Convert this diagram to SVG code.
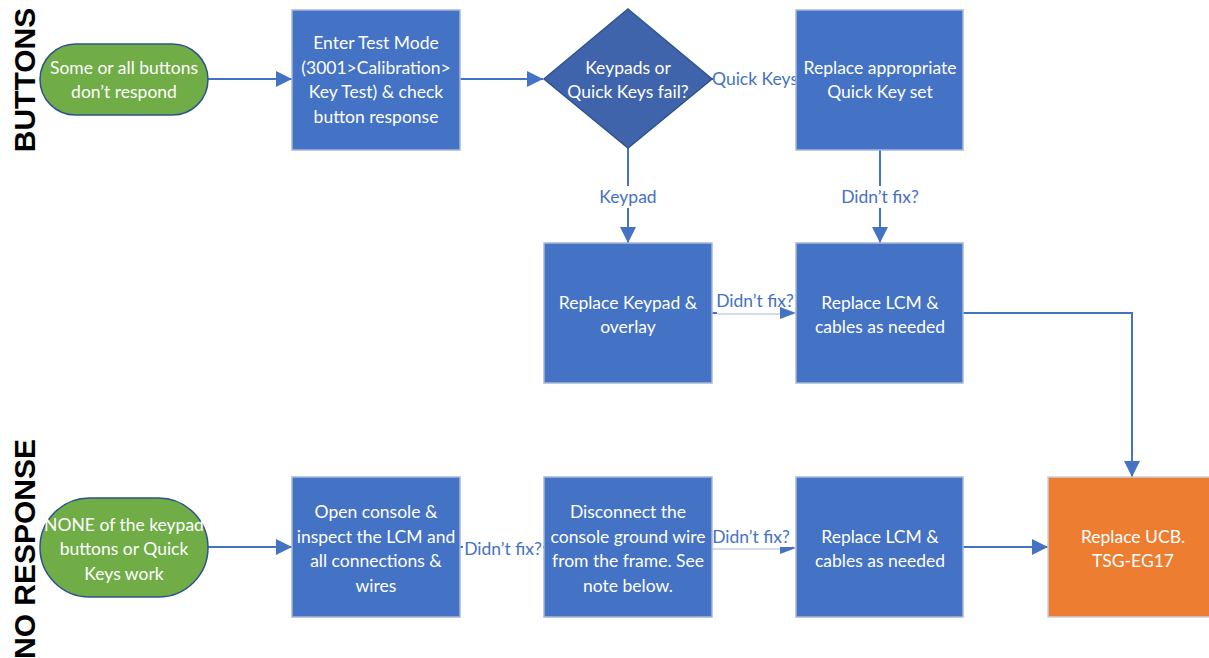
<svg xmlns="http://www.w3.org/2000/svg" width="1209" height="658" viewBox="0 0 1209 658">
  <style>
    .box { fill: #4472C4; stroke: #A9B8D8; stroke-width: 1.5; }
    .dia { fill: #3F64AB; stroke: #2F528F; stroke-width: 1.5; }
    .pill { fill: #70AD47; stroke: #2F528F; stroke-width: 1.5; }
    .end { fill: #ED7D31; stroke: #C9CFDC; stroke-width: 1.5; }
    .nt { font-family: Lato, "Liberation Sans", sans-serif; font-size: 17.5px; fill: #FFFFFF; text-anchor: middle; }
    .lt { font-family: Lato, "Liberation Sans", sans-serif; font-size: 17.5px; fill: #4472C4; text-anchor: middle; }
    .lane { font-family: "Liberation Sans", sans-serif; font-size: 30px; font-weight: bold; fill: #000000; text-anchor: middle; }
    .conn { fill: none; stroke: #4472C4; stroke-width: 2; }
    .thin { fill: none; stroke: #C5D1EA; stroke-width: 1.5; }
    .lblbg { fill: #FFFFFF; }
  </style>
  <defs>
    <marker id="arrow" viewBox="0 0 10 10" refX="10" refY="5" markerWidth="8" markerHeight="8" markerUnits="userSpaceOnUse" orient="auto">
      <path d="M0,0 L10,5 L0,10 Z" fill="#4472C4"/>
    </marker>
    <marker id="arrowBig" viewBox="0 0 10 10" refX="10" refY="5" markerWidth="16" markerHeight="16" markerUnits="userSpaceOnUse" orient="auto">
      <path d="M0,0 L10,5 L0,10 Z" fill="#4472C4"/>
    </marker>
  </defs>

  <!-- lane titles -->
  <text class="lane" transform="translate(35,80) rotate(-90)">BUTTONS</text>
  <text class="lane" transform="translate(35,549) rotate(-90)">NO RESPONSE</text>

  <!-- connectors -->
  <g id="connectors">
    <path class="conn" d="M208,79 H292" marker-end="url(#arrowBig)"/>
    <path class="conn" d="M460,79 H543" marker-end="url(#arrowBig)"/>
    <path class="conn" d="M712,79 H796" marker-end="url(#arrowBig)"/>
    <path class="conn" d="M628,148 V243" marker-end="url(#arrowBig)"/>
    <path class="conn" d="M880,150 V243" marker-end="url(#arrowBig)"/>
    <path class="conn" d="M712,313 H717"/>
    <path class="thin" d="M717,314 H782"/>
    <path d="M780,307 L796,313 L780,319 Z" fill="#4472C4"/>
    <path class="conn" d="M963,313 H1132 V477" marker-end="url(#arrowBig)"/>
    <path class="conn" d="M208,547 H292" marker-end="url(#arrowBig)"/>
    <path class="conn" d="M460,547 H544"/>
    <path class="thin" d="M712,549 H782"/>
    <path d="M780,542 L796,548 L780,554 Z" fill="#4472C4"/>
    <path class="conn" d="M963,547 H1048" marker-end="url(#arrowBig)"/>

    <!-- connector labels -->
    <rect class="lblbg" x="713" y="68" width="82" height="22"/>
    <text class="lt" x="755" y="85">Quick Keys</text>
    <rect class="lblbg" x="598" y="186" width="60" height="22"/>
    <text class="lt" x="628" y="203">Keypad</text>
    <rect class="lblbg" x="840" y="186" width="80" height="22"/>
    <text class="lt" x="880" y="203">Didn’t fix?</text>
    <text class="lt" x="755" y="307">Didn’t fix?</text>
    <rect class="lblbg" x="463" y="538" width="80" height="22"/>
    <text class="lt" x="503" y="555">Didn’t fix?</text>
    <rect class="lblbg" x="712" y="525" width="80" height="22"/>
    <text class="lt" x="751" y="543">Didn’t fix?</text>
  </g>

  <!-- BUTTONS lane -->
  <g id="start-buttons">
    <rect class="pill" x="40" y="44" width="168" height="71" rx="35.5"/>
    <text class="nt" x="124" y="74">Some or all buttons</text>
    <text class="nt" x="124" y="98">don’t respond</text>
  </g>
  <g id="enter-test-mode">
    <rect class="box" x="292" y="10" width="168" height="140"/>
    <text class="nt" x="376" y="49">Enter Test Mode</text>
    <text class="nt" x="376" y="74">(3001&gt;Calibration&gt;</text>
    <text class="nt" x="376" y="98">Key Test) &amp; check</text>
    <text class="nt" x="376" y="123">button response</text>
  </g>
  <g id="decision">
    <polygon class="dia" points="628,9 712,79 628,148 544,79"/>
    <text class="nt" x="628" y="74">Keypads or</text>
    <text class="nt" x="628" y="98">Quick Keys fail?</text>
  </g>
  <g id="replace-quick-keys">
    <rect class="box" x="796" y="10" width="167" height="140"/>
    <text class="nt" x="880" y="74">Replace appropriate</text>
    <text class="nt" x="880" y="98">Quick Key set</text>
  </g>
  <g id="replace-keypad">
    <rect class="box" x="544" y="243" width="168" height="140"/>
    <text class="nt" x="628" y="309">Replace Keypad &amp;</text>
    <text class="nt" x="628" y="333">overlay</text>
  </g>
  <g id="replace-lcm-1">
    <rect class="box" x="796" y="243" width="167" height="140"/>
    <text class="nt" x="880" y="309">Replace LCM &amp;</text>
    <text class="nt" x="880" y="333">cables as needed</text>
  </g>

  <!-- NO RESPONSE lane -->
  <g id="start-no-response">
    <rect class="pill" x="40" y="498" width="168" height="99" rx="49.5"/>
    <text class="nt" x="124" y="531">NONE of the keypad</text>
    <text class="nt" x="124" y="555">buttons or Quick</text>
    <text class="nt" x="124" y="580">Keys work</text>
  </g>
  <g id="open-console">
    <rect class="box" x="292" y="477" width="168" height="140"/>
    <text class="nt" x="376" y="518">Open console &amp;</text>
    <text class="nt" x="376" y="543">inspect the LCM and</text>
    <text class="nt" x="376" y="567">all connections &amp;</text>
    <text class="nt" x="376" y="592">wires</text>
  </g>
  <g id="disconnect-ground">
    <rect class="box" x="544" y="477" width="168" height="140"/>
    <text class="nt" x="628" y="518">Disconnect the</text>
    <text class="nt" x="628" y="543">console ground wire</text>
    <text class="nt" x="628" y="567">from the frame.  See</text>
    <text class="nt" x="628" y="592">note below.</text>
  </g>
  <g id="replace-lcm-2">
    <rect class="box" x="796" y="477" width="167" height="140"/>
    <text class="nt" x="880" y="543">Replace LCM &amp;</text>
    <text class="nt" x="880" y="567">cables as needed</text>
  </g>
  <g id="replace-ucb">
    <rect class="end" x="1048" y="477" width="170" height="140"/>
    <text class="nt" x="1133" y="543">Replace UCB.</text>
    <text class="nt" x="1133" y="567">TSG-EG17</text>
  </g>
</svg>
